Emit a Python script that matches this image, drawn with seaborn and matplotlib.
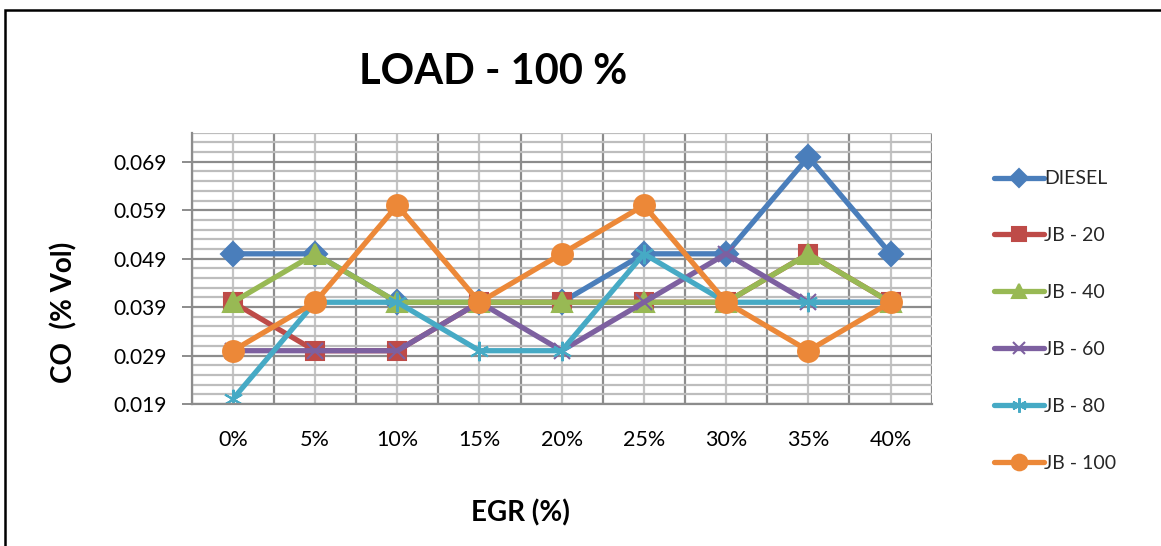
import numpy as np
import pandas as pd
import matplotlib
matplotlib.use("Agg")
import matplotlib.pyplot as plt
import matplotlib.patches as mpatches
from matplotlib.ticker import FixedLocator
import seaborn as sns

# ---- data ----
egr = ["0%", "5%", "10%", "15%", "20%", "25%", "30%", "35%", "40%"]
diesel = [0.05, 0.05, 0.04, 0.04, 0.04, 0.05, 0.05, 0.07, 0.05]
jb20 = [0.04, 0.03, 0.03, 0.04, 0.04, 0.04, 0.04, 0.05, 0.04]
jb40 = [0.04, 0.05, 0.04, 0.04, 0.04, 0.04, 0.04, 0.05, 0.04]
jb60 = [0.03, 0.03, 0.03, 0.04, 0.03, 0.04, 0.05, 0.04, 0.04]
jb80 = [0.02, 0.04, 0.04, 0.03, 0.03, 0.05, 0.04, 0.04, 0.04]
jb100 = [0.03, 0.04, 0.06, 0.04, 0.05, 0.06, 0.04, 0.03, 0.04]
series_names = ["DIESEL", "JB - 20", "JB - 40", "JB - 60", "JB - 80", "JB - 100"]
yticks = [0.019, 0.029, 0.039, 0.049, 0.059, 0.069]

series_vals = [diesel, jb20, jb40, jb60, jb80, jb100]
rows = []
for name, vals in zip(series_names, series_vals):
    for i, (cat, v) in enumerate(zip(egr, vals)):
        rows.append({"pos": i, "EGR": cat, "CO": v, "series": name})
df = pd.DataFrame(rows)

colors = ["#4A7EBB", "#BE4B48", "#98B954", "#7D60A0", "#46AAC5", "#EC8838"]
marker_list = ["D", "s", "^", "x", (6, 2, 0), "o"]
msizes = [12, 13, 14, 12, 14, 15]

sns.set_theme(style="white")
plt.rcParams["font.family"] = ["Lato", "DejaVu Sans"]

W, H = 1161, 546
fig = plt.figure(figsize=(W / 100, H / 100), dpi=100)
ax_l, ax_r, ax_t, ax_b = 191.7, 931.7, 132.7, 404.0
ax = fig.add_axes([ax_l / W, (H - ax_b) / H, (ax_r - ax_l) / W, (ax_b - ax_t) / H])

for name, c, m, ms in zip(series_names, colors, marker_list, msizes):
    sub = df[df["series"] == name]
    sns.lineplot(data=sub, x="pos", y="CO", color=c, marker=m, markersize=ms,
                 markeredgecolor=c, markerfacecolor=c, markeredgewidth=1.5,
                 linewidth=3.8, label=name, ax=ax)

ax.set_xlim(-0.5, len(egr) - 0.5)
ax.set_ylim(0.019, 0.075)

ax.xaxis.set_major_locator(FixedLocator(range(len(egr))))
ax.set_xticklabels(egr)
ax.xaxis.set_minor_locator(FixedLocator(np.arange(-0.5, len(egr), 1.0)))
ax.yaxis.set_major_locator(FixedLocator(yticks))
ax.set_yticklabels([f"{t:.3f}" for t in yticks])
ax.yaxis.set_minor_locator(FixedLocator(np.arange(0.019, 0.0751, 0.002)))

ax.set_axisbelow(True)
ax.grid(True, which="major", axis="y", color="#8C8C8C", linewidth=1.6)
ax.grid(True, which="minor", axis="y", color="#BDBDBD", linewidth=1.6)
ax.grid(True, which="major", axis="x", color="#C4C4C4", linewidth=1.6)
ax.grid(True, which="minor", axis="x", color="#8C8C8C", linewidth=1.6)

for s in ["top", "right"]:
    ax.spines[s].set_visible(False)
for s in ["left", "bottom"]:
    ax.spines[s].set_color("#8C8C8C")
    ax.spines[s].set_linewidth(1.6)

ax.tick_params(axis="y", which="major", direction="out", length=7, width=1.4,
               color="#8C8C8C", pad=11, labelsize=15, labelcolor="black", left=True)
ax.tick_params(axis="y", which="minor", length=0)
ax.tick_params(axis="x", which="both", length=0, pad=19, labelsize=15.5, labelcolor="black")

ax.set_xlabel("EGR (%)", fontsize=20, fontweight="bold", color="black")
ax.set_ylabel("CO  (% Vol)", fontsize=20, fontweight="bold", color="black")
ax.xaxis.set_label_coords((520 - ax_l) / (ax_r - ax_l), (ax_b - 513) / (ax_b - ax_t))
ax.yaxis.set_label_coords((64 - ax_l) / (ax_r - ax_l), (ax_b - 312) / (ax_b - ax_t))
ax.xaxis.label.set_va("center")
ax.yaxis.label.set_va("center")

fig.text(493 / W, (H - 72) / H, "LOAD - 100 %", fontsize=30, fontweight="bold",
         ha="center", va="center", color="black")

handles, labels = ax.get_legend_handles_labels()
ax.legend_.remove()
leg = fig.legend(handles, labels, loc="center left",
                 bbox_to_anchor=(984 / W, (H - 321) / H),
                 frameon=False, fontsize=14, labelspacing=2.05,
                 handlelength=2.6, handletextpad=0.0, borderpad=0,
                 markerscale=0.75)

fig.patches.append(mpatches.Rectangle((5 / W, -0.2), 1.5, (H - 10) / H + 0.2,
                                      transform=fig.transFigure, fill=False,
                                      edgecolor="black", linewidth=1.8, clip_on=False))

fig.savefig("out.png", dpi=100)
